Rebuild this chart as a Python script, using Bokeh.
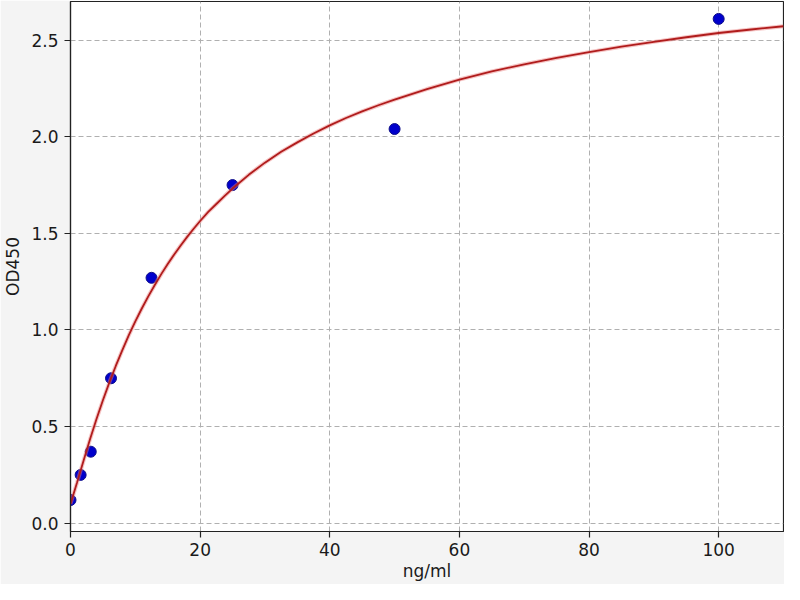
from bokeh.plotting import figure
from bokeh.models import Range1d, FixedTicker, PrintfTickFormatter
from bokeh.embed import file_html
from bokeh.resources import INLINE

# Standard points (concentration ng/ml, OD450)
conc = [0, 1.5625, 3.125, 6.25, 12.5, 25, 50, 100]
od = [0.12, 0.25, 0.37, 0.75, 1.27, 1.75, 2.04, 2.61]

# Fitted curve
fit_x = [0, 1, 2, 3, 4, 5, 6, 7, 8, 9, 10, 11, 12, 13, 14, 15, 16, 17, 18, 19,
         20, 21.25, 22.5, 23.75, 25, 27.5, 30, 32.5, 35, 37.5, 40, 42.5, 45,
         47.5, 50, 55, 60, 65, 70, 75, 80, 85, 90, 95, 100, 105, 110]
fit_y = [0.10, 0.209, 0.322, 0.433, 0.538, 0.636, 0.729, 0.815, 0.896, 0.973,
         1.044, 1.111, 1.174, 1.233, 1.289, 1.341, 1.391, 1.437, 1.482, 1.524,
         1.564, 1.611, 1.652, 1.693, 1.732, 1.803, 1.866, 1.922, 1.971, 2.017,
         2.059, 2.097, 2.131, 2.163, 2.192, 2.247, 2.296, 2.338, 2.375, 2.408,
         2.438, 2.466, 2.491, 2.515, 2.537, 2.555, 2.572]

x_ticks = [0, 20, 40, 60, 80, 100]
y_ticks = [0.0, 0.5, 1.0, 1.5, 2.0, 2.5]
x_label = "ng/ml"
y_label = "OD450"

FONT = "DejaVu Sans"

p = figure(width=784, height=584, output_backend="svg", toolbar_location=None,
           x_range=Range1d(0, 110), y_range=Range1d(-0.043, 2.70),
           min_border_left=69, min_border_right=1, min_border_top=1,
           min_border_bottom=53)

p.border_fill_color = "#f4f4f4"
p.background_fill_color = "white"
p.outline_line_color = "#222222"
p.outline_line_width = 1.2

for ax in (p.xaxis[0], p.yaxis[0]):
    ax.axis_line_color = "#222222"
    ax.axis_line_width = 1.2
    ax.major_tick_line_color = "#222222"
    ax.major_tick_line_width = 1.2
    ax.major_tick_out = 6
    ax.major_tick_in = 0
    ax.minor_tick_out = 0
    ax.minor_tick_in = 0
    ax.major_label_text_font = FONT
    ax.major_label_text_font_size = "17px"
    ax.major_label_text_color = "#1a1a1a"
    ax.axis_label_text_font = FONT
    ax.axis_label_text_font_size = "17px"
    ax.axis_label_text_font_style = "normal"
    ax.axis_label_text_color = "#1a1a1a"

p.xaxis.ticker = FixedTicker(ticks=x_ticks)
p.yaxis.ticker = FixedTicker(ticks=y_ticks)
p.yaxis.formatter = PrintfTickFormatter(format="%.1f")
p.xaxis.axis_label = x_label
p.yaxis.axis_label = y_label
p.xaxis.major_label_standoff = 5
p.yaxis.major_label_standoff = 6
p.xaxis.axis_label_standoff = 2
p.yaxis.axis_label_standoff = 5

p.xgrid.ticker = FixedTicker(ticks=x_ticks)
p.ygrid.ticker = FixedTicker(ticks=y_ticks)
for g in (p.xgrid[0], p.ygrid[0]):
    g.grid_line_color = "#b0b0b0"
    g.grid_line_width = 1
    g.grid_line_dash = "5 3"

p.scatter(conc, od, size=11, fill_color="#0000cc", line_color="#10108a",
          line_width=1)
p.line(fit_x, fit_y, line_color="#e87c7c", line_width=4, line_alpha=0.45)
p.line(fit_x, fit_y, line_color="#b01c1c", line_width=1.8)

open("out.html", "w").write(file_html(p, INLINE))
